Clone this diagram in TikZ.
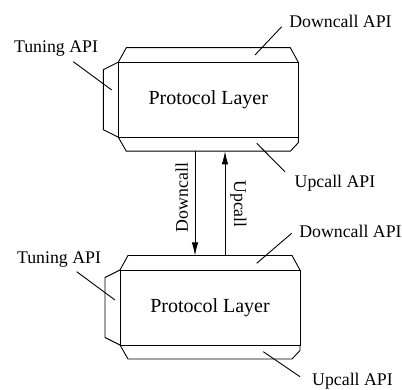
\documentclass[tikz,border=0pt]{standalone}
\usepackage{fontspec}
\setmainfont{Liberation Serif}
\usetikzlibrary{arrows.meta}
\tikzset{
  boxline/.style={draw=black, line width=0.9pt, line join=miter},
  lbl/.style={font=\fontsize{17.8}{20}\selectfont, inner sep=0pt},
  leader/.style={draw=black, line width=0.9pt},
  callarrow/.style={draw=black, line width=0.9pt, -{Latex[length=13pt,width=6.5pt]}},
  pic layer/.style={},
  layer/.pic={
    \node[boxline, minimum width=180pt, minimum height=75pt, inner sep=0pt,
          font=\fontsize{20}{24}\selectfont] (-main) at (0,0) {Protocol Layer};
    % downcall API band
    \draw[boxline] (-90,-37.5) -- (-82,-52) -- (82,-52) -- (90,-37.5);
    % upcall API band
    \draw[boxline] (-90,37.5) -- (-82,51.5) -- (82,51.5) -- (90,43) -- (90,37.5);
    % tuning API band
    \draw[boxline] (-90,-37.5) -- (-105,-30) -- (-105,30) -- (-90,37.5);
  }
}
\begin{document}
\begin{tikzpicture}[x=1pt,y=-1pt]
\useasboundingbox (0,0) rectangle (402,390);

\pic (up) at (208.3,99.7) {layer};
\pic (lo) at (210,307.5) {layer};

% labels, upper layer
\node[lbl] (upD) at (340.5,21.5) {Downcall API};
\node[lbl] (upT) at (56,48.5) {Tuning API};
\node[lbl] (upU) at (335,183) {Upcall API};
% labels, lower layer
\node[lbl] (loD) at (350.5,231.5) {Downcall API};
\node[lbl] (loT) at (59,260) {Tuning API};
\node[lbl] (loU) at (352.5,381) {Upcall API};

% leader ends
\coordinate (upDa) at (281.7,26.7); \coordinate (upDb) at (255,55);
\coordinate (upTa) at (73.3,61.7);  \coordinate (upTb) at (111.7,90);
\coordinate (upUa) at (285,171.7);  \coordinate (upUb) at (256.7,143.3);
\coordinate (loDa) at (291.7,233.3); \coordinate (loDb) at (256.7,263.3);
\coordinate (loTa) at (76.7,271.7);  \coordinate (loTb) at (115,300);
\coordinate (loUa) at (300,376.7);   \coordinate (loUb) at (263.3,351.7);

\draw[leader] (upDa) -- (upDb);
\draw[leader] (upTa) -- (upTb);
\draw[leader] (upUa) -- (upUb);
\draw[leader] (loDa) -- (loDb);
\draw[leader] (loTa) -- (loTb);
\draw[leader] (loUa) -- (loUb);

% call arrows between the layers
\coordinate (dnA) at (195,151.3);
\coordinate (dnB) at (195,255.5);
\coordinate (upA) at (225,255.5);
\coordinate (upB) at (225,151.3);
\draw[callarrow] (dnA) -- (dnB);
\draw[callarrow] (upA) -- (upB);
\node[lbl, rotate=90] (dnL) at (181.7,197.5) {Downcall};
\node[lbl, rotate=-90] (upL) at (238.3,204) {Upcall};
\end{tikzpicture}
\end{document}
